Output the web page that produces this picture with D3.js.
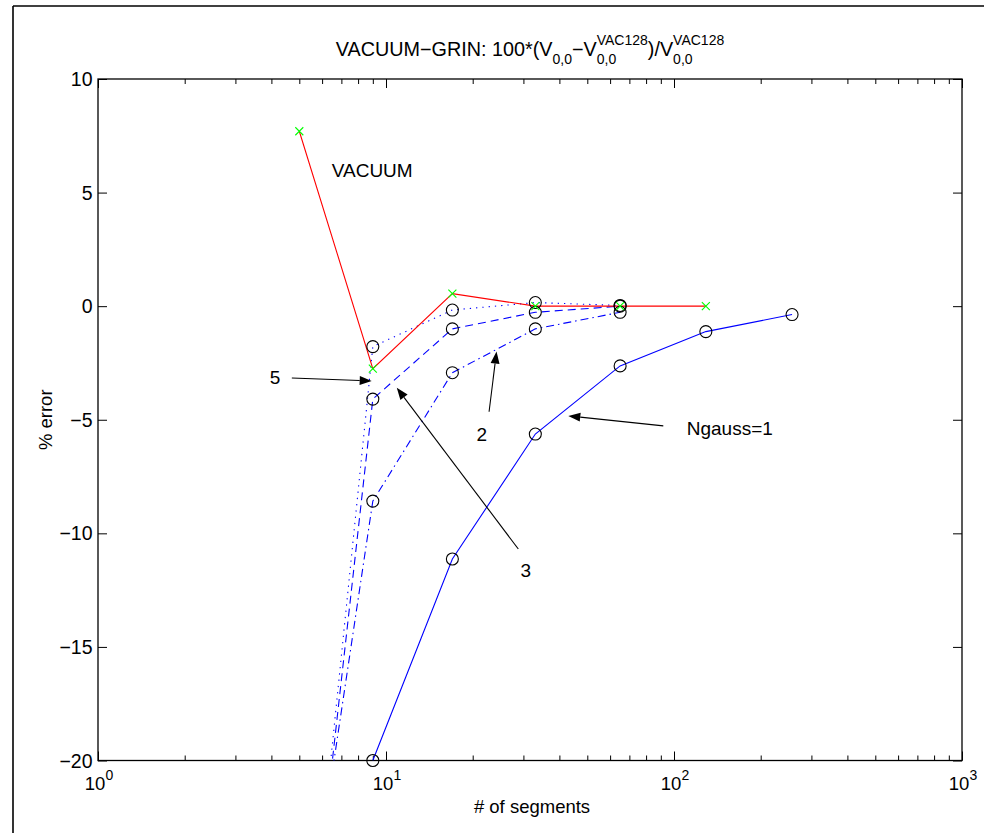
<!DOCTYPE html>
<html>
<head>
<meta charset="utf-8">
<script src="https://cdn.jsdelivr.net/npm/d3@7"></script>
<style>
  body { margin: 0; background: #fff; }
  svg { display: block; }
  text { font-family: "Liberation Sans", Arial, Helvetica, sans-serif; fill: #000; }
</style>
</head>
<body>
<svg id="chart" width="984" height="833"></svg>
<script>
// ---- data: % error versus number of segments ----
const vacuumSegments = [5, 9, 17, 33, 65, 129];
const vacuumError    = [7.7, -2.75, 0.55, 0.0, 0.0, 0.0];

const ngauss1Segments = [9, 17, 33, 65, 129, 257];
const ngauss1Error    = [-20, -11.13, -5.63, -2.63, -1.12, -0.37];

const ngaussSegments = [5, 9, 17, 33, 65];
const ngauss2Error   = [-30.2, -8.58, -2.93, -1.0, -0.27];
const ngauss3Error   = [-33.0, -4.09, -1.0, -0.27, 0.0];
const ngauss5Error   = [-33.6, -1.78, -0.17, 0.16, 0.03];

const xTickExponents = [0, 1, 2, 3];
const yTickValues    = [-20, -15, -10, -5, 0, 5, 10];

// annotation labels and arrows, in data units
const labels = [
  { text: "VACUUM",   x: 6.48,  y: 5.98,   anchor: "start"  },
  { text: "5",        x: 4.12,  y: -3.13,  anchor: "middle" },
  { text: "3",        x: 30.6,  y: -11.61, anchor: "middle" },
  { text: "2",        x: 21.5,  y: -5.63,  anchor: "middle" },
  { text: "Ngauss=1", x: 110.7, y: -5.36,  anchor: "start"  }
];
const arrows = [
  { x0: 4.71, y0: -3.16,  x1: 8.92,  y1: -3.29 },
  { x0: 28.8, y0: -10.69, x1: 10.9,  y1: -3.59 },
  { x0: 22.8, y0: -4.65,  x1: 24.2,  y1: -2.0  },
  { x0: 91.8, y0: -5.27,  x1: 42.95, y1: -4.83 }
];

// ---- layout ----
const margin = { left: 98, right: 22, top: 79, bottom: 72.5 };
const W = 984, H = 833;
const FS_YTICK = 19.5;
const FS_XTICK = 18.5;
const FS_LABEL = 18.5;
const FS_TITLE = 19.8;
const FS_SMALL = 14;   // sub/superscripts
const FS_NOTE = 19;    // annotations
const svg = d3.select("#chart");

const x = d3.scaleLog().domain([1, 1000]).range([margin.left, W - margin.right]);
const y = d3.scaleLinear().domain([-20, 10]).range([H - margin.bottom, margin.top]);

// figure frame
svg.append("line").attr("x1", 13).attr("x2", W).attr("y1", 6).attr("y2", 6)
  .attr("stroke", "#000").attr("stroke-width", 1.6);
svg.append("line").attr("x1", 13).attr("x2", 13).attr("y1", 6).attr("y2", H)
  .attr("stroke", "#000").attr("stroke-width", 1.6);

svg.append("defs").append("clipPath").attr("id", "plotClip")
  .append("rect")
  .attr("x", x.range()[0]).attr("y", y.range()[1])
  .attr("width", x.range()[1] - x.range()[0])
  .attr("height", y.range()[0] - y.range()[1]);

// ---- axes (ticks inside, mirrored on all four sides) ----
const minorTicks = [];
for (let e = 0; e < 3; e++) for (let m = 2; m <= 9; m++) minorTicks.push(m * Math.pow(10, e));
const majorX = xTickExponents.map(e => Math.pow(10, e));

const axisG = svg.append("g");
function addAxis(axisFn, scale, values, size, transform) {
  const g = axisG.append("g").attr("transform", transform)
    .call(axisFn(scale).tickValues(values).tickSize(size).tickFormat(""));
  g.select(".domain").remove();
  g.selectAll("line").attr("stroke", "#000").attr("stroke-width", 1);
  return g;
}
const bottomY = y.range()[0], topY = y.range()[1];
const leftX = x.range()[0], rightX = x.range()[1];
addAxis(d3.axisTop, x, majorX, 9, `translate(0,${bottomY})`);
addAxis(d3.axisTop, x, minorTicks, 5, `translate(0,${bottomY})`);
addAxis(d3.axisBottom, x, majorX, 9, `translate(0,${topY})`);
addAxis(d3.axisBottom, x, minorTicks, 5, `translate(0,${topY})`);
addAxis(d3.axisRight, y, yTickValues, 9, `translate(${leftX},0)`);
addAxis(d3.axisLeft, y, yTickValues, 9, `translate(${rightX},0)`);

axisG.append("rect")
  .attr("x", leftX).attr("y", topY)
  .attr("width", rightX - leftX).attr("height", bottomY - topY)
  .attr("fill", "none").attr("stroke", "#000").attr("stroke-width", 1.3);

// y tick labels
axisG.selectAll("text.ylab").data(yTickValues).join("text")
  .attr("class", "ylab")
  .attr("x", leftX - 5.5).attr("y", d => y(d))
  .attr("dy", "0.36em")
  .attr("text-anchor", "end").attr("font-size", FS_YTICK)
  .text(d => d < 0 ? "\u2212" + Math.abs(d) : String(d));

// x tick labels: 10 with superscript exponent
xTickExponents.forEach(e => {
  const t = axisG.append("text")
    .attr("y", bottomY + 29.5).attr("font-size", FS_XTICK);
  t.append("tspan").text("10");
  t.append("tspan").attr("font-size", FS_SMALL).attr("dy", -10).text(String(e));
  const w = t.node().getComputedTextLength();
  t.attr("x", x(Math.pow(10, e)) - w / 2 + 1);
});

// axis titles
svg.append("text")
  .attr("x", (leftX + rightX) / 2 + 2).attr("y", 813)
  .attr("text-anchor", "middle").attr("font-size", FS_LABEL)
  .text("# of segments");
svg.append("text")
  .attr("transform", `translate(52,${(topY + bottomY) / 2}) rotate(-90)`)
  .attr("text-anchor", "middle").attr("font-size", FS_LABEL)
  .text("% error");

// ---- title with stacked sub/superscripts ----
(function drawTitle() {
  const runs = [
    { t: "VACUUM\u2212GRIN: 100*(V" },
    { sub: "0,0" },
    { t: "\u2212V" },
    { sub: "0,0", sup: "VAC128" },
    { t: ")/V" },
    { sub: "0,0", sup: "VAC128" }
  ];
  const g = svg.append("g");
  const base = 55.5;
  let cx = 0;
  runs.forEach(r => {
    if (r.t) {
      const el = g.append("text").attr("x", cx).attr("y", base).attr("font-size", FS_TITLE).text(r.t);
      cx += el.node().getComputedTextLength();
    } else {
      let w = 0;
      if (r.sup) {
        const s = g.append("text").attr("x", cx).attr("y", base - 11).attr("font-size", FS_SMALL).text(r.sup);
        w = Math.max(w, s.node().getComputedTextLength());
      }
      const b = g.append("text").attr("x", cx).attr("y", base + 8.5).attr("font-size", FS_SMALL).text(r.sub);
      w = Math.max(w, b.node().getComputedTextLength());
      cx += w;
    }
  });
  g.attr("transform", `translate(${(leftX + rightX) / 2 - cx / 2},0)`);
})();

// ---- series ----
const plot = svg.append("g").attr("clip-path", "url(#plotClip)");
const lineGen = d3.line().x(d => x(d[0])).y(d => y(d[1]));
const zip = (xs, ys) => xs.map((v, i) => [v, ys[i]]);

const series = [
  { pts: zip(ngauss1Segments, ngauss1Error), color: "#0000ff", dash: null,          marker: "o" },
  { pts: zip(ngaussSegments, ngauss2Error),  color: "#0000ff", dash: "8,4,1.5,4",   marker: "o" },
  { pts: zip(ngaussSegments, ngauss3Error),  color: "#0000ff", dash: "8,5",         marker: "o" },
  { pts: zip(ngaussSegments, ngauss5Error),  color: "#0000ff", dash: "1.3,5",       marker: "o" },
  { pts: zip(vacuumSegments, vacuumError),   color: "#ff0000", dash: null,          marker: "x" }
];

series.forEach(s => {
  plot.append("path").datum(s.pts)
    .attr("d", lineGen)
    .attr("fill", "none")
    .attr("stroke", s.color)
    .attr("stroke-width", 1.1)
    .attr("stroke-dasharray", s.dash);
});

const inside = d => d[1] >= y.domain()[0] && d[1] <= y.domain()[1];
const markG = svg.append("g");
series.forEach(s => {
  const pts = s.pts.filter(inside);
  if (s.marker === "o") {
    markG.selectAll(null).data(pts).join("circle")
      .attr("cx", d => x(d[0])).attr("cy", d => y(d[1])).attr("r", 6)
      .attr("fill", "none").attr("stroke", "#000").attr("stroke-width", 1.1);
  } else {
    const k = 4;
    markG.selectAll(null).data(pts).join("path")
      .attr("d", d => {
        const px = x(d[0]), py = y(d[1]);
        return `M${px - k},${py - k}L${px + k},${py + k}M${px - k},${py + k}L${px + k},${py - k}`;
      })
      .attr("stroke", "#00ff00").attr("stroke-width", 1.1).attr("fill", "none");
  }
});

// ---- annotations ----
const annG = svg.append("g");
arrows.forEach(a => {
  const px0 = x(a.x0), py0 = y(a.y0), px1 = x(a.x1), py1 = y(a.y1);
  const ang = Math.atan2(py1 - py0, px1 - px0);
  const L = 12, hw = 4.5;
  const bx = px1 - L * Math.cos(ang), by = py1 - L * Math.sin(ang);
  annG.append("line").attr("x1", px0).attr("y1", py0).attr("x2", bx).attr("y2", by)
    .attr("stroke", "#000").attr("stroke-width", 1.1);
  const nx = -Math.sin(ang), ny = Math.cos(ang);
  annG.append("path")
    .attr("d", `M${px1},${py1}L${bx + nx * hw},${by + ny * hw}L${bx - nx * hw},${by - ny * hw}Z`)
    .attr("fill", "#000");
});
annG.selectAll("text").data(labels).join("text")
  .attr("x", d => x(d.x)).attr("y", d => y(d.y))
  .attr("dy", "0.36em")
  .attr("text-anchor", d => d.anchor)
  .attr("font-size", FS_NOTE)
  .text(d => d.text);
</script>
</body>
</html>
